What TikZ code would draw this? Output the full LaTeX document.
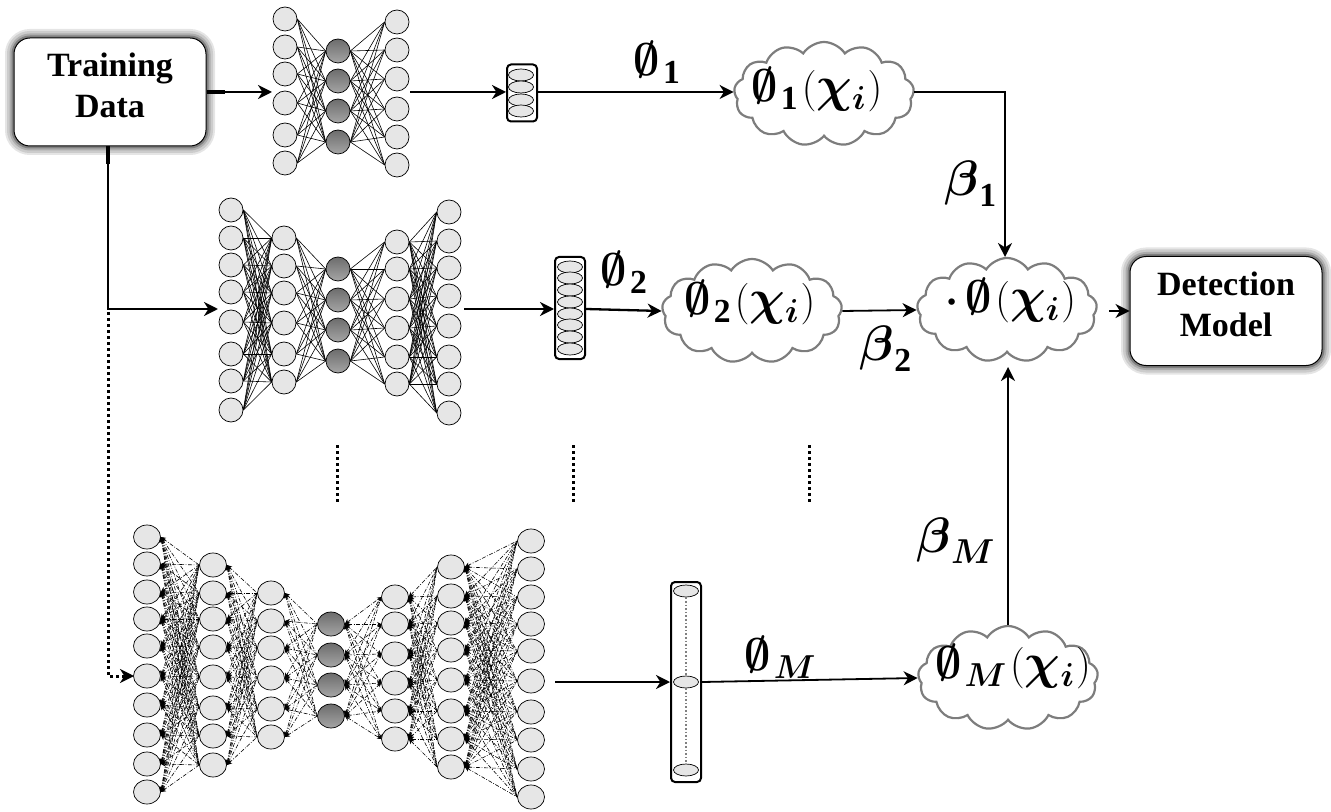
\documentclass[tikz,border=0pt]{standalone}
\usepackage{amsmath}
\usepackage{amssymb}
\usepackage{graphicx}
\usepackage{fontspec}
\setmainfont{Liberation Serif}
\usetikzlibrary{shapes.geometric, shapes.symbols, arrows.meta}
\definecolor{neuronfill}{RGB}{230, 230, 230}
\definecolor{cloudline}{RGB}{125, 125, 125}

\newcommand{\netlayer}[4]{\foreach \yy [count=\ii] in {#4} {\node[#3] (#1-\ii) at (#2,\yy) {};}}
\newcommand{\netlinks}[5]{\foreach \aa in {1,...,#3} {\foreach \bb in {1,...,#5} {\draw[#1] (#2-\aa.east) -- (#4-\bb.west);}}}
\newcommand{\subtext}[1]{\raisebox{-4pt}{\scalebox{0.8}{$#1$}}}
\newcommand{\phiset}{\scalebox{1.1}{$\boldsymbol{\emptyset}$}}
\newcommand{\phisub}[1]{\phiset\kern1.5pt\subtext{#1}}
\newcommand{\chiarg}{\kern2pt$($\scalebox{1.2}{$\boldsymbol{\chi}$}\subtext{\boldsymbol{i}}\kern1pt$)$}

\begin{document}
\begin{tikzpicture}[
    x=0.5pt, y=-0.5pt,
    neuron/.style={draw, ellipse, line width=0.35pt, fill=neuronfill, inner sep=0pt, minimum width=12pt, minimum height=12pt},
    hidden/.style={neuron, top color=gray!85!black, bottom color=gray!70},
    wideneuron/.style={neuron, minimum width=13.5pt},
    widehidden/.style={hidden, minimum width=13.5pt},
    code/.style={draw, ellipse, line width=0.35pt, fill=neuronfill, inner sep=0pt, minimum width=12.5pt, minimum height=6pt},
    codebox/.style={draw, rounded corners=2pt, line width=1pt, inner sep=0pt, minimum width=15pt},
    link/.style={line width=0.3pt},
    dashlink/.style={line width=0.3pt, dash pattern=on 2pt off 0.8pt on 0.4pt off 0.8pt},
    backlink/.style={dashlink, {Stealth[length=2.5pt, width=2.5pt]}-},
    bothlink/.style={dashlink, {Stealth[length=2.5pt, width=2.5pt]}-{Stealth[length=2pt, width=2pt]}},
    arrow/.style={-{Stealth[length=7pt, width=7pt, inset=2.2pt]}, line width=1.15pt},
    thinarrow/.style={-{Stealth[length=7pt, width=7pt, inset=2.2pt]}, line width=0.9pt},
    dotline/.style={line width=1.5pt, dash pattern=on 1.5pt off 1.5pt},
    datanode/.style={draw, rounded corners=8pt, line width=0.5pt, fill=white, align=center, text depth=6.5pt, font=\fontsize{17}{20.5}\selectfont\bfseries,
        preaction={draw=gray!20, line width=9pt}, preaction={draw=gray!40, line width=7pt},
        preaction={draw=gray!65, line width=4.5pt}, preaction={draw=gray, line width=2.5pt}},
    bubble/.style={draw=cloudline, cloud, cloud puffs=13, cloud puff arc=115, aspect=1.75, line width=1.1pt, fill=white, inner sep=0pt, minimum width=90pt, minimum height=52pt},
    formula/.style={font=\fontsize{21}{25}\selectfont},
    weight/.style={font=\fontsize{21}{25}\selectfont},
    betalabel/.style={font=\fontsize{24}{28}\selectfont}
]
    \useasboundingbox (0,0) rectangle (1331,812);

    % Boxes
    \node[datanode, minimum width=96pt, minimum height=54pt] (train) at (110,92) {Training\\Data};
    \node[datanode, minimum width=96pt, minimum height=54.5pt] (detect) at (1226,311) {Detection\\Model};

    % Top network
    \netlayer{a1}{285}{neuron}{19,47,74,103,135,163}
    \netlayer{a2}{338}{hidden}{51,81,111,142}
    \netlayer{a3}{397}{neuron}{22,50,79,109,137,165}
    \netlinks{link}{a1}{6}{a2}{4}
    \netlinks{link}{a2}{4}{a3}{6}

    % Middle network
    \netlayer{b1}{231}{neuron}{210,238,265,292,322,354,381,410}
    \netlayer{b2}{284}{neuron}{238,266,293,323,354,382}
    \netlayer{b3}{338}{hidden}{269,300,330,361}
    \netlayer{b4}{397}{neuron}{242,269,299,328,357,384}
    \netlayer{b5}{449}{neuron}{212,241,268,296,326,357,384,413}
    \netlinks{link}{b1}{8}{b2}{6}
    \netlinks{link}{b2}{6}{b3}{4}
    \netlinks{link}{b3}{4}{b4}{6}
    \netlinks{link}{b4}{6}{b5}{8}

    % Bottom network
    \netlayer{c1}{147}{wideneuron}{537,564,592,619,646,676,705,735,764,792}
    \netlayer{c2}{213}{wideneuron}{565,593,619,647,677,708,736,765}
    \netlayer{c3}{271}{wideneuron}{593,621,648,678,709,737}
    \netlayer{c4}{331}{widehidden}{624,655,685,716}
    \netlayer{c5}{395}{wideneuron}{597,624,654,683,711,739}
    \netlayer{c6}{451}{wideneuron}{567,596,623,650,680,711,739,767}
    \netlayer{c7}{531}{wideneuron}{541,569,597,624,651,681,712,740,769,797}
    \netlinks{backlink}{c1}{10}{c2}{8}
    \netlinks{backlink}{c2}{8}{c3}{6}
    \netlinks{backlink}{c3}{6}{c4}{4}
    \netlinks{bothlink}{c4}{4}{c5}{6}
    \netlinks{backlink}{c5}{6}{c6}{8}
    \netlinks{backlink}{c6}{8}{c7}{10}

    % Code boxes
    \node[codebox, minimum height=28.5pt] (code1) at (522,93) {};
    \netlayer{e1}{521}{code}{75,87,100,111}
    \node[codebox, minimum height=51pt] (code2) at (570,308) {};
    \netlayer{e2}{570}{code}{267,278,290,302,314,325,337,349}
    \node[codebox, minimum height=100pt] (code3) at (686,682) {};
    \netlayer{e3}{686}{code}{591,682,770}
    \draw[gray, densely dotted, line width=0.8pt] (e3-1) -- (e3-2);
    \draw[gray, densely dotted, line width=0.8pt] (e3-2) -- (e3-3);

    % Clouds
    \node[bubble] (phi1) at (824,94) {};
    \node[bubble] (phi2) at (752,311) {};
    \node[bubble] (phisum) at (1007,310) {};
    \node[bubble] (phim) at (1008,678) {};
    \node[formula] (phi1txt) at (817,90) {\phisub{\mathbf{1}}\chiarg};
    \node[formula] (phi2txt) at (750,303) {\phisub{\mathbf{2}}\chiarg};
    \node[formula] (phisumtxt) at (1011,301) {$\boldsymbol{\cdot}$\kern3pt\phiset\chiarg};
    \node[formula] (phimtxt) at (1013,667) {\phisub{\boldsymbol{M}}\chiarg};

    % Free ends of the arrows
    \coordinate (net1in) at (272,92);
    \coordinate (net1out) at (410,92);
    \coordinate (net2in) at (218,309);
    \coordinate (net2out) at (464,309);
    \coordinate (net3out) at (555,682);
    \coordinate (trainout) at (108,146);
    \coordinate (branch) at (108,312);
    \coordinate (net3in) at (134,676);
    \coordinate (sumout) at (1109,311);
    \coordinate (sumtop) at (1005,257);
    \coordinate (sumbottom) at (1008,367);

    % Arrows
    \draw[arrow] (train.east |- net1in) -- (net1in);
    \draw[line width=1.7pt] (train.east |- net1in) -- ++(18,0);
    \draw[arrow] (net1out) -- (net1out -| code1.west);
    \draw[arrow] (code1.east |- net1out) -- (phi1.west |- net1out);
    \draw[thinarrow] (phi1.east |- net1out) -| (sumtop);
    \draw[arrow] (trainout) |- (net2in);
    \draw[line width=1.7pt] (trainout) -- ++(0,18);
    \draw[arrow] (net2out) -- (net2out -| code2.west);
    \draw[arrow] (code2.east |- net2out) -- (phi2.west);
    \draw[thinarrow] (phi2.east) -- (phisum.west);
    \draw[thinarrow] (sumout) -- (detect.west |- sumout);
    \draw[dotline, -{Stealth[length=7pt, width=7pt, inset=2.2pt]}] (branch) |- (net3in);
    \draw[arrow] (net3out) -- (net3out -| code3.west);
    \draw[thinarrow] (code3.east |- net3out) -- (phim.west);
    \draw[thinarrow] (phim.north) -- (sumbottom);

    % Labels
    \node[weight] (lab1) at (657,62) {\phisub{\mathbf{1}}};
    \node[weight] (lab2) at (624,272) {\phisub{\mathbf{2}}};
    \node[weight] (labm) at (780,657) {\phisub{\boldsymbol{M}}};
    \node[betalabel] (beta1) at (971,184) {$\boldsymbol{\beta}_{\mathbf{1}}$};
    \node[betalabel] (beta2) at (886,349) {$\boldsymbol{\beta}_{\mathbf{2}}$};
    \node[betalabel] (betam) at (956,541) {$\boldsymbol{\beta}_{\boldsymbol{M}}$};

    % Dots between the rows
    \foreach \xx in {337,573,809} {
        \draw[dotline] (\xx,445) -- (\xx,503);
    }
\end{tikzpicture}
\end{document}
